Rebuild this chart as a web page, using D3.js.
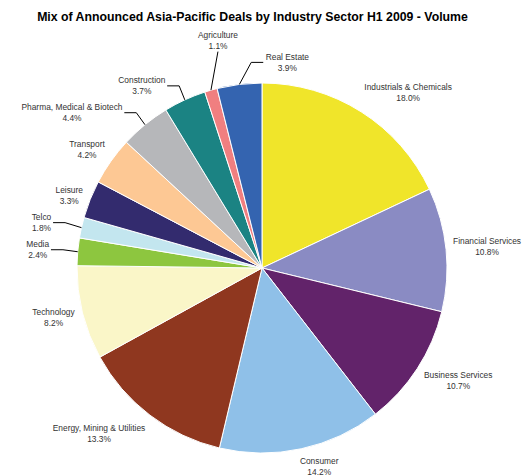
<!DOCTYPE html>
<html>
<head>
<meta charset="utf-8">
<script src="https://cdn.jsdelivr.net/npm/d3@7"></script>
<style>
  html, body { margin: 0; padding: 0; background: #fff; }
  svg { display: block; }
  .lbl { font-family: "Liberation Sans", Arial, sans-serif; font-size: 8.4px; fill: #333; }
  .title { font-family: "Liberation Sans", Arial, sans-serif; font-size: 12.3px; font-weight: bold; fill: #000; }
</style>
</head>
<body>
<script>
// Sector shares of announced deal volume, clockwise from 12 o'clock
const sectors = [
  "Industrials & Chemicals", "Financial Services", "Business Services", "Consumer",
  "Energy, Mining & Utilities", "Technology", "Media", "Telco", "Leisure", "Transport",
  "Pharma, Medical & Biotech", "Construction", "Agriculture", "Real Estate"
];
const shares = [18.0, 10.8, 10.7, 14.2, 13.3, 8.2, 2.4, 1.8, 3.3, 4.2, 4.4, 3.7, 1.1, 3.9];
const sliceColors = [
  "#f0e52a", "#8a8bc3", "#62236a", "#8fc0e8", "#8f371f", "#faf6c8", "#8dc63f",
  "#c3e6ef", "#332b6e", "#fdc894", "#b6b7ba", "#1b8383", "#f07f80", "#3464b0"
];

// Label block centres, offset from the slice's outer edge point
const labelOffsets = [
  [47, -19], [41, -3], [41, 12], [18, 18], [-51, 18], [-29, 5], [-40, -2],
  [-40, -5], [-21, -4], [-24, -12], [-73, -12], [-43, -14], [7, -50], [48, -22]
];
// Labels that were pulled away from their slice and get a leader line
const leaderKind = {
  "Real Estate": "elbow", "Construction": "elbow", "Pharma, Medical & Biotech": "elbow",
  "Telco": "elbow", "Media": "elbow", "Agriculture": "straight"
};

const W = 522, H = 475;
const cx = 262, cy = 268, R = 185;

const svg = d3.select("body").append("svg").attr("width", W).attr("height", H);

svg.append("text").attr("class", "title")
  .attr("x", 252.5).attr("y", 21).attr("text-anchor", "middle")
  .text("Mix of Announced Asia-Pacific Deals by Industry Sector H1 2009 - Volume");

const data = sectors.map((s, i) => ({ sector: s, share: shares[i], color: sliceColors[i], off: labelOffsets[i] }));

const pie = d3.pie().sort(null).value(d => d.share);
const arcs = pie(data);
const arc = d3.arc().innerRadius(0).outerRadius(R);
const edge = d3.arc().innerRadius(R).outerRadius(R);

const g = svg.append("g").attr("transform", `translate(${cx},${cy})`);

g.selectAll("path.slice").data(arcs).join("path")
  .attr("class", "slice")
  .attr("d", arc)
  .attr("fill", d => d.data.color)
  .attr("stroke", "#fff")
  .attr("stroke-width", 1);

const fmt = d3.format(".1f");
const labels = g.selectAll("g.label").data(arcs).join("g").attr("class", "label")
  .each(function (d) {
    const [ex, ey] = edge.centroid(d);
    const lx = ex + d.data.off[0], ly = ey + d.data.off[1];
    d.edgePt = [ex, ey];
    d.labelPt = [lx, ly];
    const t = d3.select(this).append("text").attr("class", "lbl").attr("text-anchor", "middle");
    t.append("tspan").attr("x", lx).attr("y", ly - 5.5).attr("dy", "0.35em").text(d.data.sector);
    t.append("tspan").attr("x", lx).attr("y", ly + 5.5).attr("dy", "0.35em").text(fmt(d.data.share) + "%");
  });

// Leader lines from the slice edge to the displaced label
labels.each(function (d) {
  const kind = leaderKind[d.data.sector];
  if (!kind) return;
  const box = d3.select(this).select("text").node().getBBox();
  const [ex, ey] = d.edgePt;
  const [lx, ly] = d.labelPt;
  let pts;
  if (kind === "straight") {
    pts = [[lx, box.y + box.height + 1], [ex, ey]];
  } else {
    const leftSide = lx < ex;
    const x0 = leftSide ? box.x + box.width + 1.5 : box.x - 2.5;
    const x1 = leftSide ? x0 + 12 : x0 - 12;
    pts = [[x0, ly], [x1, ly], [ex, ey]];
  }
  d3.select(this).append("path")
    .attr("d", d3.line()(pts))
    .attr("fill", "none").attr("stroke", "#000").attr("stroke-width", 1);
});
</script>
</body>
</html>
